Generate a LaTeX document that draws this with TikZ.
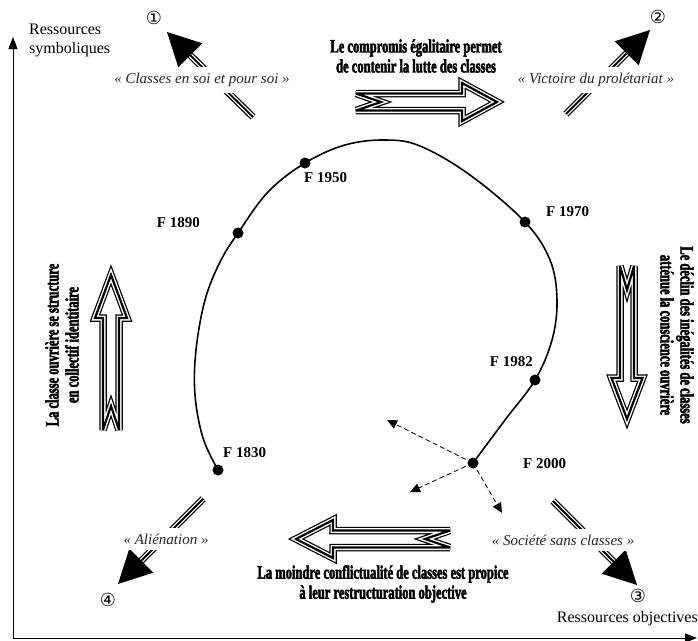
\documentclass[tikz,border=0pt]{standalone}
\usepackage{fontspec}
\setmainfont{Liberation Serif}
\newfontfamily\condfont[FakeStretch=0.66,FakeBold=2.4]{Liberation Serif Bold}
\newfontfamily\symfont{DejaVu Sans}
\usetikzlibrary{arrows.meta,calc}

\begin{document}
\begin{tikzpicture}[x=1pt,y=-1pt,
  axisline/.style={line width=1pt,-{Triangle[length=12pt,width=9pt]}},
  loopline/.style={line width=1.6pt},
  yeardot/.style={circle,fill=black,inner sep=0pt,minimum size=11pt},
  yearlabel/.style={font=\bfseries\fontsize{15}{17}\selectfont,inner sep=0pt},
  circnum/.style={font=\symfont\fontsize{18}{20}\selectfont,inner sep=0pt},
  quotelabel/.style={font=\itshape\fontsize{15}{17}\selectfont,text=black!85,fill=white,inner xsep=2pt,inner ysep=6pt},
  thesistext/.style={font=\condfont\fontsize{19}{20}\selectfont,align=center,inner sep=0pt},
  axislabel/.style={font=\fontsize{16}{19}\selectfont,inner sep=0pt},
  tripleshaft/.style={line width=7pt,postaction={draw=white,line width=4.4pt},postaction={draw=black,line width=1.8pt}},
  hollowarrow/.style={draw=black,fill=white,line width=7.5pt,miter limit=5,
    postaction={draw=white,line width=5pt},postaction={draw=black,line width=2.2pt}},
  bighead/.style={fill=black},
  driftarrow/.style={dash pattern=on 5pt off 3pt,line width=0.8pt,-{Triangle[length=10pt,width=9pt]}}
]
\useasboundingbox (0,0) rectangle (698,640);

% axes
\coordinate (origin) at (13,638);
\coordinate (ytop) at (13,37);
\coordinate (xend) at (697,638);
\draw[axisline] (origin) -- (ytop);
\draw[axisline] (origin) -- (xend);
\node[axislabel,align=left,anchor=north west] (ysym) at (29,24) {Ressources\\symboliques};
\node[axislabel,anchor=east] (xobj) at (698,619) {Ressources objectives};

% trajectory through the years
\coordinate (p1830) at (218,470);
\coordinate (p1890) at (238,233);
\coordinate (p1950) at (305,163);
\coordinate (p1970) at (525,222);
\coordinate (p1982) at (535,380);
\coordinate (p2000) at (473,463);
\draw[loopline] plot[smooth,tension=0.6] coordinates {(p1830) (203,438) (195,395) (196,350) (205,300) (220,262) (p1890) (268,192) (p1950) (345,145) (385,140) (420,146) (470,175) (p1970) (550,260) (557,300) (552,340) (p1982) (505,420) (p2000)};
\node[yeardot] (f1830) at (p1830) {};
\node[yeardot] (f1890) at (p1890) {};
\node[yeardot] (f1950) at (p1950) {};
\node[yeardot] (f1970) at (p1970) {};
\node[yeardot] (f1982) at (p1982) {};
\node[yeardot] (f2000) at (p2000) {};
\node[yearlabel,anchor=west] (l1830) at (223,453) {F 1830};
\node[yearlabel,anchor=east] (l1890) at (200,223) {F 1890};
\node[yearlabel,anchor=west] (l1950) at (304,178) {F 1950};
\node[yearlabel,anchor=west] (l1970) at (546,212) {F 1970};
\node[yearlabel,anchor=east] (l1982) at (533,362) {F 1982};
\node[yearlabel,anchor=west] (l2000) at (523,464) {F 2000};

% possible drifts from the last point
\coordinate (d1) at (387,420);
\coordinate (d2) at (410,492);
\coordinate (d3) at (502,513);
\draw[driftarrow] (f2000.center) -- (d1);
\draw[driftarrow] (f2000.center) -- (d2);
\draw[driftarrow] (f2000.center) -- (d3);

% four diagonal outcomes
\coordinate (s1) at (253,117);   \coordinate (b1) at (190.3,55.3);
\coordinate (s2) at (566,114);   \coordinate (b2) at (626.7,53.3);
\coordinate (s3) at (553,501);   \coordinate (b3) at (613.7,561.7);
\coordinate (s4) at (203.3,498.7); \coordinate (b4) at (141.3,560.7);
\draw[tripleshaft] (s1) -- (b1);
\draw[tripleshaft] (s2) -- (b2);
\draw[tripleshaft] (s3) -- (b3);
\draw[tripleshaft] (s4) -- (b4);
\fill[bighead] (167,32) -- (202.3,43.3) -- (178.3,67.3) -- cycle;
\fill[bighead] (650,30) -- (638.7,65.3) -- (614.7,41.3) -- cycle;
\fill[bighead] (637,585) -- (625.7,549.7) -- (601.7,573.7) -- cycle;
\fill[bighead] (118,584) -- (153.3,572.7) -- (129.3,548.7) -- cycle;
\node[quotelabel] (q1) at (202,80) {« Classes en soi et pour soi »};
\node[quotelabel] (q2) at (596,80) {« Victoire du prolétariat »};
\node[quotelabel] (q3) at (563,540) {« Société sans classes »};
\node[quotelabel] (q4) at (166,539) {« Aliénation »};
\node[circnum] (n1) at (154,18) {①};
\node[circnum] (n2) at (658,17) {②};
\node[circnum] (n3) at (638,596) {③};
\node[circnum] (n4) at (108,600) {④};

% hollow arrows of the cycle
\path[hollowarrow] (356,93.5) -- (462,93.5) -- (462,83) -- (497,102) -- (462,121) -- (462,110.5) -- (356,110.5) -- (381,102) -- cycle;
\path[hollowarrow] (450,530.5) -- (333,530.5) -- (333,520) -- (296,539) -- (333,558) -- (333,547.5) -- (450,547.5) -- (425,539) -- cycle;
\path[hollowarrow] (103,430) -- (103,318) -- (95,318) -- (111,275) -- (127,318) -- (119,318) -- (119,430) -- (111,406) -- cycle;
\path[hollowarrow] (620,266) -- (620,378) -- (611.5,378) -- (627,419) -- (642.5,378) -- (634,378) -- (634,266) -- (627,290) -- cycle;

\node[thesistext] (tTop) at (416,56) {Le compromis égalitaire permet\\de contenir la lutte des classes};
\node[thesistext] (tBot) at (383,584) {La moindre conflictualité de classes est propice\\à leur restructuration objective};
\node[thesistext,rotate=90] (tLeft) at (62,345) {La classe ouvrière se structure\\en collectif identitaire};
\node[thesistext,rotate=-90] (tRight) at (677,335) {Le déclin des inégalités de classes\\atténue la conscience ouvrière};
\end{tikzpicture}
\end{document}
